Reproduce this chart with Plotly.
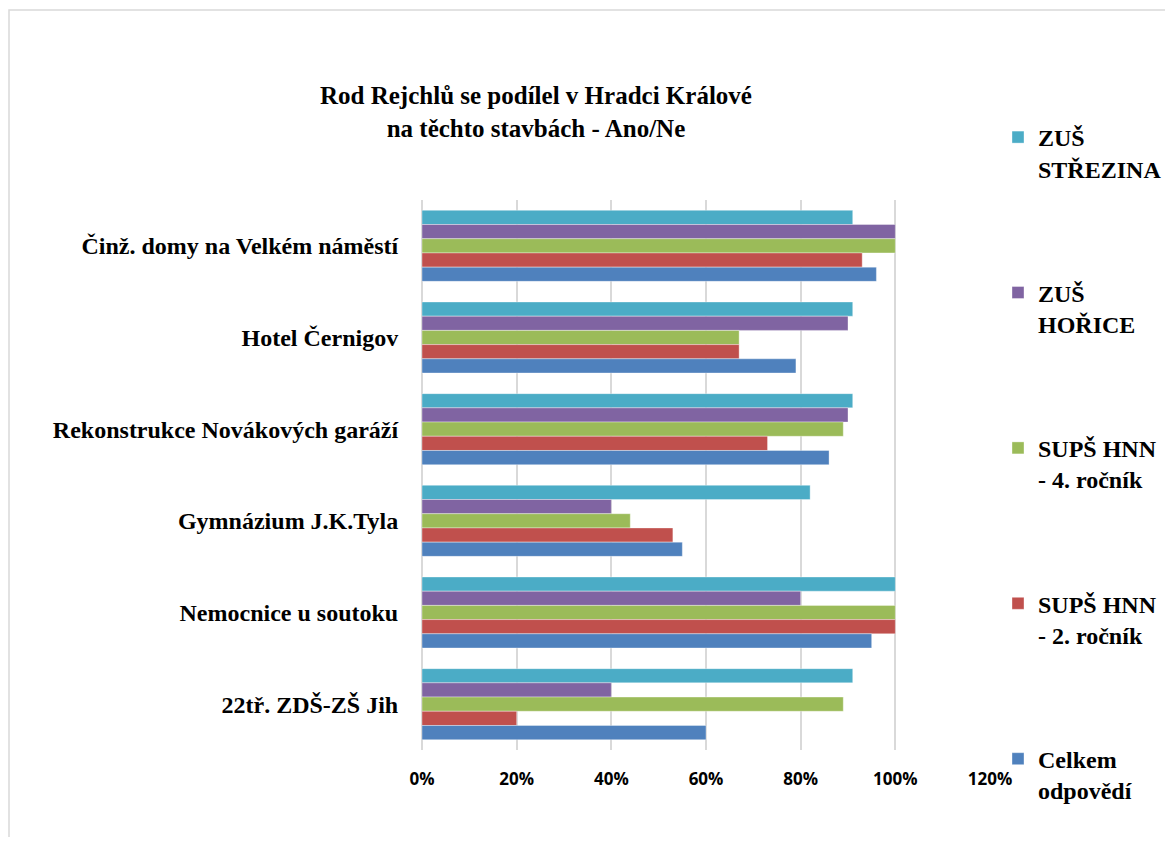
import plotly.graph_objects as go

categories = [
    "Činž. domy na Velkém náměstí",
    "Hotel Černigov",
    "Rekonstrukce Novákových garáží",
    "Gymnázium J.K.Tyla",
    "Nemocnice u soutoku",
    "22tř. ZDŠ-ZŠ Jih",
]
series_names = [
    "ZUŠ<br>STŘEZINA",
    "ZUŠ<br>HOŘICE",
    "SUPŠ HNN<br>- 4. ročník",
    "SUPŠ HNN<br>- 2. ročník",
    "Celkem<br>odpovědí",
]
zus_strezina = [0.91, 0.91, 0.91, 0.82, 1.00, 0.91]
zus_horice = [1.00, 0.90, 0.90, 0.40, 0.80, 0.40]
sups_4 = [1.00, 0.67, 0.89, 0.44, 1.00, 0.89]
sups_2 = [0.93, 0.67, 0.73, 0.53, 1.00, 0.20]
celkem = [0.96, 0.79, 0.86, 0.55, 0.95, 0.60]
colors = ["#4BACC6", "#8064A2", "#9BBB59", "#C0504D", "#4F81BD"]
tick_vals = [0, 0.2, 0.4, 0.6, 0.8, 1.0, 1.2]
tick_text = ["0%", "20%", "40%", "60%", "80%", "100%", "120%"]

# page offset (browser body margin)
OFF = 8
W, H = 1173 - OFF, 845 - 2 * OFF
L, R, T, B = 422 - OFF, 990 - OFF, 200 - OFF, 750 - OFF

fig = go.Figure()
for name, vals, col in zip(series_names, [zus_strezina, zus_horice, sups_4, sups_2, celkem], colors):
    fig.add_trace(go.Bar(
        y=categories, x=vals, name=name, orientation="h",
        marker=dict(color=col, line=dict(color="rgba(255,255,255,0.45)", width=0.8)),
        legendgroup=name,
    ))

def px_x(p):  # reference screen px -> paper
    return (p - OFF - L) / (R - L)

def px_y(p):
    return (B - (p - OFF)) / (B - T)

def cx(p):  # reference screen px -> container
    return (p - OFF) / W

def cy(p):
    return 1 - (p - OFF) / H

serif = "Liberation Serif"
fig.update_layout(
    width=W, height=H,
    margin=dict(l=L, r=W - R, t=T, b=H - B, pad=0, autoexpand=False),
    paper_bgcolor="white", plot_bgcolor="white",
    barmode="group", bargap=0.225, bargroupgap=0,
    showlegend=True,
    legend=dict(
        xref="container", yref="container",
        x=cx(998), y=cy(115), xanchor="left", yanchor="top",
        font=dict(family=serif, size=24, color="black", weight="bold"),
        traceorder="grouped", tracegroupgap=90, valign="top",
        itemwidth=30, bgcolor="rgba(0,0,0,0)", maxheight=820,
    ),
    xaxis=dict(
        range=[0, 1.2], tickvals=tick_vals, ticktext=tick_text,
        showgrid=True, gridcolor="#D9D9D9", gridwidth=1.5,
        zeroline=True, zerolinecolor="#D9D9D9", zerolinewidth=1.5,
        showline=False, ticks="outside", ticklen=14, tickcolor="rgba(0,0,0,0)",
        tickfont=dict(family="Open Sans", size=17, color="black", weight="bold"),
        fixedrange=True,
    ),
    yaxis=dict(
        autorange="reversed", showgrid=False, showline=False, zeroline=False,
        ticks="outside", ticklen=18, tickcolor="rgba(0,0,0,0)",
        tickfont=dict(family=serif, size=24, color="black", weight="bold"),
        fixedrange=True,
    ),
    annotations=[dict(
        x=px_x(536), y=px_y(112), xref="paper", yref="paper",
        text="Rod Rejchlů se podílel v Hradci Králové<br>na těchto stavbách - Ano/Ne",
        showarrow=False, xanchor="center", yanchor="middle",
        font=dict(family=serif, size=25, color="black", weight="bold"),
    )],
    shapes=[dict(
        type="rect", xref="paper", yref="paper",
        x0=px_x(9), x1=px_x(1200), y0=px_y(880), y1=px_y(10),
        line=dict(color="#D9D9D9", width=1.5), fillcolor="rgba(0,0,0,0)", layer="below",
    )],
)

fig.write_html("out.html")
